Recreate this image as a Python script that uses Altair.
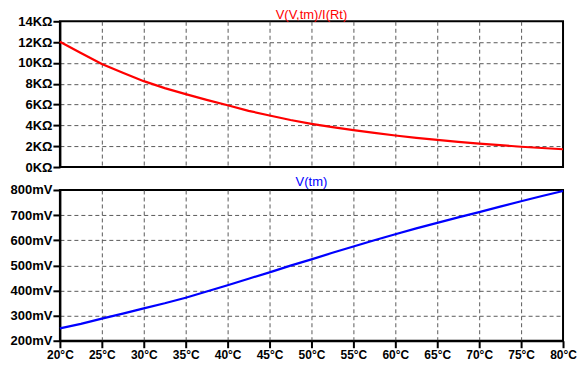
import altair as alt
import pandas as pd

temps = [20, 22.5, 25, 27.5, 30, 32.5, 35, 37.5, 40, 42.5, 45, 47.5, 50,
         52.5, 55, 57.5, 60, 62.5, 65, 67.5, 70, 72.5, 75, 77.5, 80]
resistance_k = [12.03, 10.95, 9.9, 9.05, 8.25, 7.58, 7.0, 6.45, 5.93, 5.4, 4.95, 4.52, 4.15,
                3.83, 3.55, 3.28, 3.03, 2.8, 2.6, 2.41, 2.25, 2.1, 1.95, 1.83, 1.71]
voltage_mv = [249, 267, 288, 308, 329, 349, 371, 396, 421, 447, 472, 499, 524,
              550, 575, 600, 624, 647, 669, 691, 712, 734, 755, 776, 796]

x_ticks = [20, 25, 30, 35, 40, 45, 50, 55, 60, 65, 70, 75, 80]
r_ticks = [0, 2, 4, 6, 8, 10, 12, 14]
v_ticks = [200, 300, 400, 500, 600, 700, 800]

df = pd.DataFrame({"temp": temps, "r": resistance_k, "v": voltage_mv})

FONT = "Liberation Sans"
xscale = alt.Scale(domain=[20, 80], nice=False, zero=False)

x_grid_op = {"condition": {"test": "datum.value == 20 || datum.value == 80", "value": 0}, "value": 1}
r_grid_op = {"condition": {"test": "datum.value == 0 || datum.value == 14", "value": 0}, "value": 1}
v_grid_op = {"condition": {"test": "datum.value == 200 || datum.value == 800", "value": 0}, "value": 1}

top = alt.Chart(
    df,
    title=alt.Title("V(V,tm)/I(Rt)", color="#ff0000", fontSize=13, fontWeight="normal",
                    font=FONT, offset=-7, anchor="middle"),
).mark_line(color="#ff0000", strokeWidth=2.2).encode(
    x=alt.X("temp:Q", scale=xscale,
            axis=alt.Axis(values=x_ticks, labels=False, ticks=False, domain=False, grid=True,
                          gridOpacity=x_grid_op, title=None, minExtent=0, maxExtent=0)),
    y=alt.Y("r:Q", scale=alt.Scale(domain=[0, 14], nice=False, zero=False),
            axis=alt.Axis(values=r_ticks, labelExpr="datum.value + 'KΩ'", title=None,
                          gridOpacity=r_grid_op, minExtent=51, maxExtent=51)),
).properties(width=504, height=146)

bottom = alt.Chart(
    df,
    title=alt.Title("V(tm)", color="#0000ff", fontSize=13, fontWeight="normal",
                    font=FONT, offset=-5, anchor="middle"),
).mark_line(color="#0000ff", strokeWidth=2.2).encode(
    x=alt.X("temp:Q", scale=xscale,
            axis=alt.Axis(values=x_ticks, labelExpr="datum.value + '°C'", title=None,
                          labelOverlap=False, labelFlush=False, labelFontSize=12,
                          labelPadding=2, gridOpacity=x_grid_op)),
    y=alt.Y("v:Q", scale=alt.Scale(domain=[200, 800], nice=False, zero=False),
            axis=alt.Axis(values=v_ticks, labelExpr="datum.value + 'mV'", title=None,
                          gridOpacity=v_grid_op, minExtent=51, maxExtent=51)),
).properties(width=504, height=151)

chart = alt.vconcat(top, bottom, spacing=0).properties(
    padding={"left": 0, "top": 0, "right": 0, "bottom": 0},
    background="white",
).configure_view(
    stroke="black", strokeWidth=2
).configure_axis(
    gridColor="#5a5a5a", gridDash=[4, 3], gridWidth=1,
    domainColor="black", domainWidth=2,
    tickColor="black", tickWidth=2, tickSize=7,
    labelFont=FONT, labelFontSize=13, labelFontWeight="bold", labelColor="black",
    labelPadding=1,
).configure_title(font=FONT)

chart.save("out.html", embed_options={"renderer": "svg", "actions": False})
